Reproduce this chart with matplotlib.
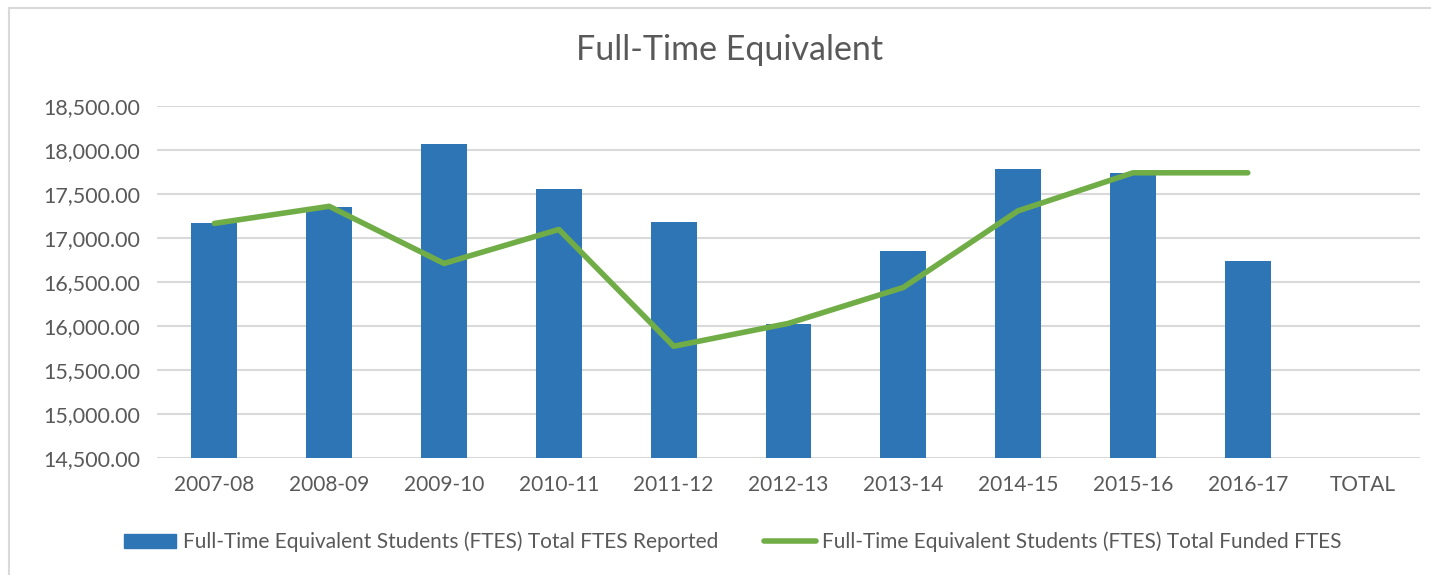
import matplotlib.pyplot as plt
import matplotlib.patches as mpatches
import numpy as np

years = ['2007-08', '2008-09', '2009-10', '2010-11', '2011-12', '2012-13',
         '2013-14', '2014-15', '2015-16', '2016-17', 'TOTAL']
reported = [17166, 17351, 18071, 17552, 17184, 16020, 16854, 17780, 17734, 16740, np.nan]
funded = [17166, 17360, 16711, 17097, 15770, 16030, 16438, 17309, 17741, 17741, np.nan]
yticks = [14500, 15000, 15500, 16000, 16500, 17000, 17500, 18000, 18500]

BLUE = '#2E75B6'
GREEN = '#70AD47'
GREY = '#595959'
GRID = '#D9D9D9'

plt.rcParams['font.family'] = ['Lato', 'DejaVu Sans']

fig = plt.figure(figsize=(14.31, 5.75), dpi=100)
ax = fig.add_axes([157 / 1431, 1 - 458 / 575, (1420 - 157) / 1431, (458 - 106) / 575])

# chart border (top/left visible in the reference)
fig.patches.append(mpatches.Rectangle((9 / 1431, -0.01), 1.1, 1 - 8 / 575 + 0.01,
                                      transform=fig.transFigure, fill=False,
                                      edgecolor=GRID, linewidth=1.5))

x = np.arange(len(years))
bars = ax.bar(x, reported, width=0.4, color=BLUE, zorder=2,
              label='Full-Time Equivalent Students (FTES) Total FTES Reported')
line, = ax.plot(x, funded, color=GREEN, linewidth=4, solid_capstyle='round',
                solid_joinstyle='round', zorder=3,
                label='Full-Time Equivalent Students (FTES) Total Funded FTES')

ax.set_xlim(-0.5, len(years) - 0.5)
ax.set_ylim(14500, 18500)
ax.set_yticks(yticks)
ax.set_yticklabels([f'{v:,.2f}' for v in yticks])
ax.set_xticks(x)
ax.set_xticklabels(years)
ax.tick_params(length=0, labelsize=15, colors=GREY, pad=12)
ax.tick_params(axis='y', labelsize=15.5, pad=12)
ax.grid(axis='y', color=GRID, linewidth=1.5, zorder=0)
ax.set_axisbelow(True)
for s in ax.spines.values():
    s.set_visible(False)

fig.text(730 / 1431, 1 - 50 / 575, 'Full-Time Equivalent', ha='center', va='center',
         fontsize=24.5, color=GREY)

bar_handle = mpatches.Patch(color=BLUE)
leg = fig.legend([bar_handle, line], [bars.get_label(), line.get_label()],
                 loc='center', bbox_to_anchor=(733 / 1431, 1 - 542 / 575),
                 ncol=2, frameon=False, fontsize=15, handlelength=2.5, handleheight=0.6,
                 handletextpad=0.3, columnspacing=2.2, labelcolor=GREY)

fig.savefig('out.png', dpi=100, facecolor='white')
